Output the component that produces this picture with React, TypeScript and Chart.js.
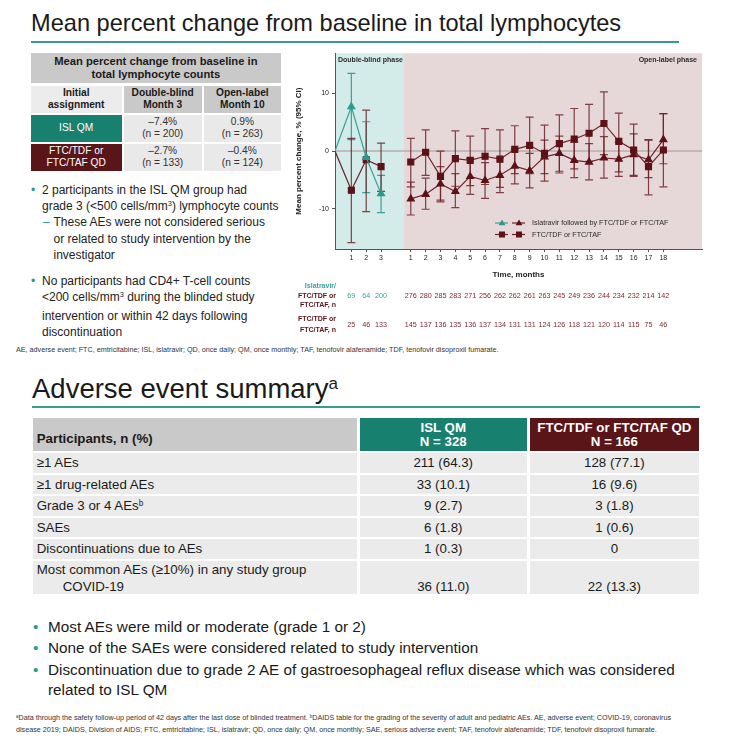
import React, { useEffect, useRef } from 'react';
import { Chart, registerables } from 'chart.js';

Chart.register(...registerables);

const FONT = '"Liberation Sans", Arial, Helvetica, sans-serif';
const TEAL = '#2a9a8c';
const TEAL_LINE = '#3aa197';
const MAROON = '#5c1216';
const MAROON_LINE = '#6e2228';
const ERR_MAROON = 'rgba(110,34,40,0.85)';
const CELL_TEAL = '#18806f';
const CELL_MAROON = '#5a1518';
const RULE = '#3a9a8f';

// ---------- chart data ----------
const baselineX = -0.1;
const baselineValue = 0;
const dbX = [1, 2, 3];
const olX = [5, 6, 7, 8, 9, 10, 11, 12, 13, 14, 15, 16, 17, 18, 19, 20, 21, 22];
const dbTickLabels = ['1', '2', '3'];
const olTickLabels = ['1', '2', '3', '4', '5', '6', '7', '8', '9', '10', '11', '12', '13', '14', '15', '16', '17', '18'];
const yTickValues = [-10, 0, 10];
const phaseBoundary = 4.55;

const islDbMean = [7.7, -1.1, -7.4];
const islDbLow = [2.0, -7.2, -10.7];
const islDbHigh = [13.5, 5.1, -4.2];
const ftcDbMean = [-6.8, -1.5, -2.7];
const ftcDbLow = [-15.9, -10.5, -7.0];
const ftcDbHigh = [2.2, 7.1, 1.4];

const islOlMean = [-8.3, -7.5, -5.7, -7.0, -4.4, -5.1, -4.2, -2.6, -3.4, -1.0, -0.4, -1.6, -1.9, -1.2, -1.4, -0.6, -1.5, 2.0];
const islOlLow = [-11.1, -10.1, -8.8, -9.8, -7.5, -8.2, -7.2, -5.7, -6.4, -3.9, -3.5, -4.6, -5.0, -4.7, -4.4, -4.4, -4.6, -2.2];
const islOlHigh = [-5.4, -4.7, -2.7, -3.9, -1.3, -2.0, -1.2, 0.4, -0.4, 1.9, 2.6, 1.5, 1.3, 2.5, 1.5, 3.0, 1.9, 6.5];
const ftcOlMean = [-1.9, -0.2, -4.4, -1.3, -1.6, -0.9, -1.4, 0.3, 1.0, -0.4, 1.3, 2.1, 3.1, 4.8, 1.7, 0.2, -2.7, 0.2];
const ftcOlLow = [-6.2, -4.2, -8.5, -6.1, -6.0, -5.8, -6.3, -3.9, -3.9, -5.2, -3.8, -3.1, -1.8, -0.6, -3.6, -4.2, -7.6, -6.2];
const ftcOlHigh = [2.2, 3.7, 0.0, 3.5, 2.6, 3.9, 3.7, 4.4, 5.9, 4.5, 6.3, 7.4, 8.1, 10.3, 6.6, 4.7, 2.0, 6.5];

const islDbN = [69, 64, 200];
const islOlN = [276, 280, 285, 283, 271, 256, 262, 262, 261, 263, 245, 249, 236, 244, 234, 232, 214, 142];
const ftcDbN = [25, 46, 133];
const ftcOlN = [145, 137, 136, 135, 136, 137, 134, 131, 131, 124, 126, 118, 121, 120, 114, 115, 75, 46];

const legendLabels = ['Islatravir followed by FTC/TDF or FTC/TAF', 'FTC/TDF or FTC/TAF'];

// ---------- table / text data ----------
const lymphRows = [
  { label: ['ISL QM'], db: ['\u20137.4%', '(n = 200)'], ol: ['0.9%', '(n = 263)'], bg: CELL_TEAL },
  { label: ['FTC/TDF or', 'FTC/TAF QD'], db: ['\u20132.7%', '(n = 133)'], ol: ['\u20130.4%', '(n = 124)'], bg: CELL_MAROON },
];

const aeLabels = ['\u22651 AEs', '\u22651 drug-related AEs', 'Grade 3 or 4 AEs', 'SAEs', 'Discontinuations due to AEs'];
const aeIsl = ['211 (64.3)', '33 (10.1)', '9 (2.7)', '6 (1.8)', '1 (0.3)'];
const aeFtc = ['128 (77.1)', '16 (9.6)', '3 (1.8)', '1 (0.6)', '0'];
const covidIsl = '36 (11.0)';
const covidFtc = '22 (13.3)';

function drawTriangle(ctx: CanvasRenderingContext2D, x: number, y: number, r: number) {
  ctx.beginPath();
  ctx.moveTo(x, y - r);
  ctx.lineTo(x + r * 0.95, y + r * 0.6);
  ctx.lineTo(x - r * 0.95, y + r * 0.6);
  ctx.closePath();
  ctx.fill();
}

const slidePlugin = {
  id: 'slidePlugin',
  beforeDraw(chart: any) {
    const { ctx, chartArea: a, scales } = chart;
    const xb = scales.x.getPixelForValue(phaseBoundary);
    ctx.save();
    ctx.fillStyle = '#d3ecea';
    ctx.fillRect(a.left, a.top, xb - a.left, a.bottom - a.top);
    ctx.fillStyle = '#e6d7d8';
    ctx.fillRect(xb, a.top, a.right - xb, a.bottom - a.top);
    ctx.restore();
  },
  beforeDatasetsDraw(chart: any) {
    const { ctx, chartArea: a, scales } = chart;
    const y0 = scales.y.getPixelForValue(0);
    ctx.save();
    ctx.strokeStyle = '#b7adae';
    ctx.lineWidth = 1.5;
    ctx.beginPath();
    ctx.moveTo(a.left, y0);
    ctx.lineTo(a.right, y0);
    ctx.stroke();
    chart.data.datasets.forEach((ds: any, di: number) => {
      const meta = chart.getDatasetMeta(di);
      ctx.strokeStyle = ds.errColor;
      ctx.lineWidth = 1.2;
      ds.errLow.forEach((lo: number | null, i: number) => {
        if (lo == null) return;
        const hi = ds.errHigh[i];
        const x = meta.data[i].x;
        const yl = scales.y.getPixelForValue(lo);
        const yh = scales.y.getPixelForValue(hi);
        ctx.beginPath();
        ctx.moveTo(x, yl);
        ctx.lineTo(x, yh);
        ctx.moveTo(x - 4, yl);
        ctx.lineTo(x + 4, yl);
        ctx.moveTo(x - 4, yh);
        ctx.lineTo(x + 4, yh);
        ctx.stroke();
      });
    });
    ctx.restore();
  },
  afterDraw(chart: any) {
    const { ctx, chartArea: a, scales } = chart;
    ctx.save();
    // phase labels
    ctx.fillStyle = '#2b2b2b';
    ctx.font = `bold 7px ${FONT}`;
    ctx.textBaseline = 'middle';
    ctx.textAlign = 'left';
    ctx.fillText('Double-blind phase', a.left + 3, a.top + 7);
    ctx.textAlign = 'right';
    ctx.fillText('Open-label phase', a.right - 5, a.top + 7);

    // legend
    const lx = a.left + 160;
    const rows = [a.bottom - 26, a.bottom - 14.5];
    ctx.lineWidth = 1.2;
    rows.forEach((ry, ri) => {
      const colors = ri === 0 ? [TEAL_LINE, MAROON_LINE] : [MAROON_LINE, MAROON_LINE];
      const fills = ri === 0 ? [TEAL, MAROON] : [MAROON, MAROON];
      [0, 1].forEach((k) => {
        const sx = lx + k * 17;
        ctx.strokeStyle = colors[k];
        ctx.beginPath();
        ctx.moveTo(sx, ry);
        ctx.lineTo(sx + 13, ry);
        ctx.stroke();
        ctx.fillStyle = fills[k];
        if (ri === 0) drawTriangle(ctx, sx + 7, ry, 3.6);
        else ctx.fillRect(sx + 7 - 3, ry - 3, 6, 6);
      });
      ctx.fillStyle = '#2b2b2b';
      ctx.font = `7.2px ${FONT}`;
      ctx.textAlign = 'left';
      ctx.fillText(legendLabels[ri], lx + 37, ry + 0.5);
    });

    // numbers at risk
    const labX = a.left + 1;
    ctx.textAlign = 'right';
    ctx.font = `bold 7px ${FONT}`;
    ctx.fillStyle = '#3aa59a';
    ctx.fillText('Islatravir/', labX, 239.7);
    ctx.fillStyle = MAROON;
    ctx.fillText('FTC/TDF or', labX, 250);
    ctx.fillText('FTC/TAF, n', labX, 259);
    ctx.fillText('FTC/TDF or', labX, 273);
    ctx.fillText('FTC/TAF, n', labX, 284);
    ctx.textAlign = 'center';
    ctx.font = `7.2px ${FONT}`;
    const xs = scales.x;
    ctx.fillStyle = '#3aa59a';
    dbX.forEach((x, i) => ctx.fillText(String(islDbN[i]), xs.getPixelForValue(x), 250));
    ctx.fillStyle = '#7a2a30';
    olX.forEach((x, i) => ctx.fillText(String(islOlN[i]), xs.getPixelForValue(x), 250));
    dbX.forEach((x, i) => ctx.fillText(String(ftcDbN[i]), xs.getPixelForValue(x), 279));
    olX.forEach((x, i) => ctx.fillText(String(ftcOlN[i]), xs.getPixelForValue(x), 279));
    ctx.restore();
  },
};

function LymphChart() {
  const ref = useRef<HTMLCanvasElement | null>(null);
  useEffect(() => {
    const canvas = ref.current;
    if (!canvas) return;
    const tickPos = [...dbX, ...olX];
    const tickLabels = [...dbTickLabels, ...olTickLabels];
    const tickFont = { family: FONT, size: 7 };
    const titleFont = { family: FONT, size: 8, weight: 'bold' as const };
    const chart = new Chart(canvas, {
      type: 'line',
      data: {
        datasets: [
          {
            label: 'Islatravir (double-blind)',
            data: [{ x: baselineX, y: baselineValue }, ...dbX.map((x, i) => ({ x, y: islDbMean[i] }))],
            borderColor: TEAL_LINE,
            backgroundColor: TEAL,
            borderWidth: 1.2,
            pointStyle: 'triangle',
            pointRadius: [0, 4, 4, 4],
            pointBackgroundColor: TEAL,
            pointBorderColor: TEAL,
            errLow: [null, ...islDbLow],
            errHigh: [null, ...islDbHigh],
            errColor: TEAL_LINE,
          } as any,
          {
            label: 'FTC (double-blind)',
            data: [{ x: baselineX, y: baselineValue }, ...dbX.map((x, i) => ({ x, y: ftcDbMean[i] }))],
            borderColor: MAROON_LINE,
            backgroundColor: MAROON,
            borderWidth: 1.2,
            pointStyle: 'rect',
            pointRadius: [0, 4.2, 4.2, 4.2],
            pointBackgroundColor: MAROON,
            pointBorderColor: MAROON,
            errLow: [null, ...ftcDbLow],
            errHigh: [null, ...ftcDbHigh],
            errColor: ERR_MAROON,
          } as any,
          {
            label: legendLabels[0],
            data: olX.map((x, i) => ({ x, y: islOlMean[i] })),
            borderColor: MAROON_LINE,
            backgroundColor: MAROON,
            borderWidth: 1.2,
            pointStyle: 'triangle',
            pointRadius: 4,
            pointBackgroundColor: MAROON,
            pointBorderColor: MAROON,
            errLow: islOlLow,
            errHigh: islOlHigh,
            errColor: ERR_MAROON,
          } as any,
          {
            label: legendLabels[1],
            data: olX.map((x, i) => ({ x, y: ftcOlMean[i] })),
            borderColor: MAROON_LINE,
            backgroundColor: MAROON,
            borderWidth: 1.2,
            pointStyle: 'rect',
            pointRadius: 4.2,
            pointBackgroundColor: MAROON,
            pointBorderColor: MAROON,
            errLow: ftcOlLow,
            errHigh: ftcOlHigh,
            errColor: ERR_MAROON,
          } as any,
        ],
      },
      options: {
        animation: false,
        responsive: false,
        devicePixelRatio: 1,
        layout: { padding: { left: 0, top: 6, right: 6, bottom: 57 } },
        plugins: { legend: { display: false }, tooltip: { enabled: false } },
        scales: {
          x: {
            type: 'linear',
            min: baselineX,
            max: 24.6,
            afterFit: (s: any) => { s.height = 35; },
            afterBuildTicks: (s: any) => { s.ticks = tickPos.map((v) => ({ value: v })); },
            ticks: {
              callback: (_v: any, i: number) => tickLabels[i],
              font: tickFont,
              color: '#222',
              padding: 2,
              maxRotation: 0,
              autoSkip: false,
            },
            grid: { drawOnChartArea: false, tickLength: 3, color: '#555' },
            border: { color: '#555', width: 1 },
            title: { display: true, text: 'Time, months', font: titleFont, color: '#222', padding: { top: 2, bottom: 4 } },
          },
          y: {
            min: -17,
            max: 17,
            afterFit: (s: any) => { s.width = 47; },
            afterBuildTicks: (s: any) => { s.ticks = yTickValues.map((v) => ({ value: v })); },
            ticks: { callback: (v: any) => String(v), font: tickFont, color: '#222', padding: 3 },
            grid: { drawOnChartArea: false, tickLength: 3, color: '#555' },
            border: { color: '#555', width: 1 },
            title: { display: true, text: 'Mean percent change, % (95% CI)', font: titleFont, color: '#222', padding: { top: 6, bottom: 2 } },
          },
        },
      },
      plugins: [slidePlugin],
    } as any);
    return () => chart.destroy();
  }, []);
  return <canvas ref={ref} width={420} height={295} style={{ position: 'absolute', left: 288, top: 46, width: 420, height: 295 }} />;
}

const abs = (l: number, t: number, w: number, h: number, extra: React.CSSProperties = {}): React.CSSProperties => ({
  position: 'absolute', left: l, top: t, width: w, height: h, boxSizing: 'border-box', ...extra,
});

const cellCenter: React.CSSProperties = {
  display: 'flex', flexDirection: 'column', alignItems: 'center', justifyContent: 'center', textAlign: 'center',
};

function Sup({ children }: { children: React.ReactNode }) {
  return <span style={{ fontSize: '0.62em', position: 'relative', top: '-0.5em' }}>{children}</span>;
}

export default function App() {
  const colX = [30.7, 123.7, 203.7];
  const colW = [91, 78, 77.3];
  const rowTop = [114.7, 144];
  const rowH = [27, 26.7];
  const AE_FS = 13.3;
  const CELL_FS = 10.2;
  return (
    <div style={{ position: 'absolute', left: 0, top: 0, width: 738, height: 752, background: '#fff', fontFamily: FONT, color: '#1a1a1a', overflow: 'hidden' }}>
      {/* Title 1 */}
      <div style={{ position: 'absolute', left: 31, top: 11, fontSize: 23.6, lineHeight: '24px', whiteSpace: 'nowrap' }}>
        Mean percent change from baseline in total lymphocytes
      </div>
      <div style={abs(31, 40.5, 648, 2, { background: RULE })} />

      {/* Left table */}
      <div style={abs(30.7, 52.7, 250.3, 30.6, { background: '#c9c9c9', ...cellCenter, fontWeight: 'bold', fontSize: 11.2, lineHeight: '12.5px' })}>
        <div>Mean percent change from baseline in</div>
        <div>total lymphocyte counts</div>
      </div>
      <div style={abs(colX[0], 85.7, colW[0], 27, { background: '#ececec', ...cellCenter, fontWeight: 'bold', fontSize: CELL_FS, lineHeight: '12.5px' })}>
        <div>Initial</div><div>assignment</div>
      </div>
      <div style={abs(colX[1], 85.7, colW[1], 27, { background: '#c9c9c9', ...cellCenter, fontWeight: 'bold', fontSize: CELL_FS, lineHeight: '12.5px' })}>
        <div>Double-blind</div><div>Month 3</div>
      </div>
      <div style={abs(colX[2], 85.7, colW[2], 27, { background: '#c9c9c9', ...cellCenter, fontWeight: 'bold', fontSize: CELL_FS, lineHeight: '12.5px' })}>
        <div>Open-label</div><div>Month 10</div>
      </div>
      {lymphRows.map((r, i) => (
        <React.Fragment key={i}>
          <div style={abs(colX[0], rowTop[i], colW[0], rowH[i], { background: r.bg, color: '#fff', ...cellCenter, fontSize: CELL_FS, lineHeight: '12.5px' })}>
            {r.label.map((s, k) => <div key={k}>{s}</div>)}
          </div>
          <div style={abs(colX[1], rowTop[i], colW[1], rowH[i], { background: '#e9e9e9', color: '#333', ...cellCenter, fontSize: CELL_FS, lineHeight: '12.5px' })}>
            {r.db.map((s, k) => <div key={k}>{s}</div>)}
          </div>
          <div style={abs(colX[2], rowTop[i], colW[2], rowH[i], { background: '#e9e9e9', color: '#333', ...cellCenter, fontSize: CELL_FS, lineHeight: '12.5px' })}>
            {r.ol.map((s, k) => <div key={k}>{s}</div>)}
          </div>
        </React.Fragment>
      ))}

      {/* Left bullets */}
      <div style={{ position: 'absolute', left: 31, top: 181.75, fontSize: 12, lineHeight: '16px', color: TEAL }}>•</div>
      <div style={{ position: 'absolute', left: 42, top: 181.75, fontSize: 12, lineHeight: '16px', whiteSpace: 'nowrap', color: '#222' }}>
        2 participants in the ISL QM group had<br />
        grade 3 (&lt;500 cells/mm<Sup>3</Sup>) lymphocyte counts
      </div>
      <div style={{ position: 'absolute', left: 43, top: 214, fontSize: 12, lineHeight: '16.7px', color: TEAL }}>–</div>
      <div style={{ position: 'absolute', left: 53.5, top: 214, fontSize: 12, lineHeight: '16.7px', whiteSpace: 'nowrap', color: '#222' }}>
        These AEs were not considered serious<br />
        or related to study intervention by the<br />
        investigator
      </div>
      <div style={{ position: 'absolute', left: 31, top: 272.5, fontSize: 12, lineHeight: '16.5px', color: TEAL }}>•</div>
      <div style={{ position: 'absolute', left: 42, top: 272.5, fontSize: 12, lineHeight: '16.5px', whiteSpace: 'nowrap', color: '#222' }}>
        No participants had CD4+ T-cell counts<br />
        &lt;200 cells/mm<Sup>3</Sup> during the blinded study<br />
        intervention or within 42 days following<br />
        discontinuation
      </div>
      <div style={{ position: 'absolute', left: 16, top: 344.5, fontSize: 7.2, lineHeight: '9px', whiteSpace: 'nowrap', color: '#333' }}>
        AE, adverse event; FTC, emtricitabine; ISL, islatravir; QD, once daily; QM, once monthly; TAF, tenofovir alafenamide; TDF, tenofovir disoproxil fumarate.
      </div>

      <LymphChart />

      {/* Title 2 */}
      <div style={{ position: 'absolute', left: 32, top: 374.5, fontSize: 27.5, lineHeight: '28px', whiteSpace: 'nowrap' }}>
        Adverse event summary<Sup>a</Sup>
      </div>
      <div style={abs(32, 406, 668, 2, { background: RULE })} />

      {/* AE table */}
      <div style={abs(32.7, 418, 324.3, 33, { background: '#c9c9c9', fontWeight: 'bold', fontSize: AE_FS, lineHeight: '14px', paddingLeft: 4, paddingTop: 13.5, whiteSpace: 'nowrap' })}>
        Participants, n (%)
      </div>
      <div style={abs(359.5, 418, 167.5, 33, { background: CELL_TEAL, color: '#fff', fontWeight: 'bold', fontSize: AE_FS, lineHeight: '13.5px', ...cellCenter })}>
        <div>ISL QM</div><div>N = 328</div>
      </div>
      <div style={abs(530, 418, 168.7, 33, { background: CELL_MAROON, color: '#fff', fontWeight: 'bold', fontSize: AE_FS, lineHeight: '13.5px', ...cellCenter, whiteSpace: 'nowrap' })}>
        <div>FTC/TDF or FTC/TAF QD</div><div>N = 166</div>
      </div>
      {aeLabels.map((lab, i) => {
        const tops = [453, 474.5, 496, 517.5, 539];
        const t = tops[i];
        const h = 19.5;
        return (
          <React.Fragment key={i}>
            <div style={abs(32.7, t, 324.3, h, { background: '#ebebeb', fontSize: AE_FS, lineHeight: `${h}px`, paddingLeft: 4, whiteSpace: 'nowrap' })}>
              {lab}{i === 2 ? <Sup>b</Sup> : null}
            </div>
            <div style={abs(359.5, t, 167.5, h, { background: '#ebebeb', fontSize: AE_FS, lineHeight: `${h}px`, textAlign: 'center' })}>{aeIsl[i]}</div>
            <div style={abs(530, t, 168.7, h, { background: '#ebebeb', fontSize: AE_FS, lineHeight: `${h}px`, textAlign: 'center' })}>{aeFtc[i]}</div>
          </React.Fragment>
        );
      })}
      <div style={abs(32.7, 560.5, 324.3, 33.5, { background: '#ebebeb', fontSize: AE_FS, lineHeight: '17px', paddingLeft: 4, whiteSpace: 'nowrap' })}>
        <div>Most common AEs (≥10%) in any study group</div>
        <div style={{ paddingLeft: 26 }}>COVID-19</div>
      </div>
      <div style={abs(359.5, 560.5, 167.5, 33.5, { background: '#ebebeb', fontSize: AE_FS, lineHeight: '17px', textAlign: 'center', paddingTop: 17 })}>{covidIsl}</div>
      <div style={abs(530, 560.5, 168.7, 33.5, { background: '#ebebeb', fontSize: AE_FS, lineHeight: '17px', textAlign: 'center', paddingTop: 17 })}>{covidFtc}</div>

      {/* Bottom bullets */}
      {[
        { t: 617, lines: ['Most AEs were mild or moderate (grade 1 or 2)'] },
        { t: 638, lines: ['None of the SAEs were considered related to study intervention'] },
        { t: 660, lines: ['Discontinuation due to grade 2 AE of gastroesophageal reflux disease which was considered', 'related to ISL QM'] },
      ].map((b, i) => (
        <React.Fragment key={i}>
          <div style={{ position: 'absolute', left: 33, top: b.t, fontSize: 15.3, lineHeight: '20px', color: TEAL }}>•</div>
          <div style={{ position: 'absolute', left: 48, top: b.t, fontSize: 15.3, lineHeight: '19.5px', whiteSpace: 'nowrap', color: '#1a1a1a' }}>
            {b.lines.map((s, k) => <div key={k}>{s}</div>)}
          </div>
        </React.Fragment>
      ))}

      {/* Footnote */}
      <div style={{ position: 'absolute', left: 16, top: 712, fontSize: 7.2, lineHeight: '11px', whiteSpace: 'nowrap', color: '#333' }}>
        <div><Sup>a</Sup>Data through the safety follow-up period of 42 days after the last dose of blinded treatment. <Sup>b</Sup>DAIDS table for the grading of the severity of adult and pediatric AEs. AE, adverse event; COVID-19, coronavirus</div>
        <div>disease 2019; DAIDS, Division of AIDS; FTC, emtricitabine; ISL, islatravir; QD, once daily; QM, once monthly; SAE, serious adverse event; TAF, tenofovir alafenamide; TDF, tenofovir disoproxil fumarate.</div>
      </div>
    </div>
  );
}
